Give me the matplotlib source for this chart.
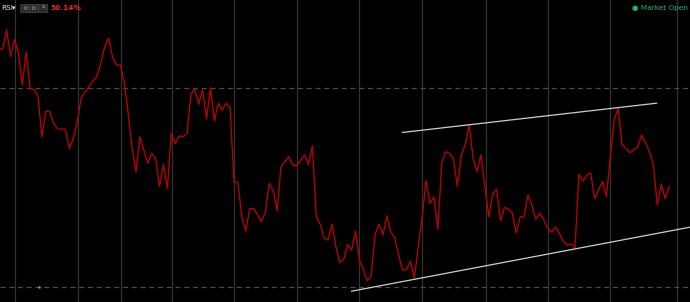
import numpy as np
import matplotlib
matplotlib.use("Agg")
import matplotlib.pyplot as plt

# RSI readings, one per bar
rsi = [77.9, 77.9, 81.8, 76.4, 79.9, 77.1, 70.7, 77.3, 69.9, 69.8,
       68.4, 60.2, 65.4, 65.3, 62.9, 61.8, 61.8, 61.7, 57.8, 59.9,
       63.1, 68.0, 69.3, 70.3, 71.5, 72.3, 75.0, 78.3, 80.1, 76.4,
       74.7, 74.7, 71.3, 65.0, 58.2, 53.1, 60.2, 57.6, 54.9, 56.9,
       55.9, 50.2, 54.7, 49.8, 60.9, 58.8, 60.4, 60.2, 60.9, 68.6,
       70.0, 66.8, 69.8, 63.8, 70.1, 63.4, 67.0, 65.6, 67.0, 66.2,
       51.2, 51.0, 44.1, 41.2, 45.7, 45.8, 44.5, 43.1, 45.0, 50.8,
       49.4, 45.3, 54.2, 55.2, 56.2, 54.5, 54.4, 55.5, 56.6, 54.6,
       58.4, 44.1, 42.6, 39.8, 39.4, 42.6, 38.1, 34.9, 35.5, 38.5,
       37.4, 41.2, 35.4, 33.4, 31.2, 32.2, 40.6, 42.6, 40.4, 44.3,
       41.0, 39.9, 36.4, 33.4, 33.4, 35.2, 31.7, 37.9, 44.1, 51.4,
       46.8, 48.1, 41.6, 54.9, 57.2, 56.9, 55.7, 50.2, 56.6, 58.6,
       62.6, 55.9, 53.2, 56.6, 50.2, 44.1, 48.8, 49.6, 43.3, 46.0,
       45.6, 44.9, 40.8, 44.1, 44.1, 48.5, 46.5, 43.6, 44.8, 43.6,
       41.8, 41.0, 42.0, 40.8, 39.1, 38.4, 38.6, 37.9, 52.7, 51.3,
       52.5, 52.9, 47.8, 49.5, 51.2, 48.1, 56.2, 63.6, 66.0, 58.6,
       57.9, 57.0, 57.6, 58.2, 60.6, 59.0, 57.2, 54.5, 46.5, 50.7,
       47.7, 50.14]

# bar positions of the period separators
period_marks = [4.2, 20.1, 31.1, 44.2, 60.1, 76.1, 92.0, 108.0, 124.2, 140.0, 156.0, 173.1]
levels = [70, 30]

# hand drawn channel lines (bar, rsi)
upper_trend = [(103.0, 61.1), (167.8, 67.0)]
lower_trend = [(90.0, 29.1), (176.3, 42.0)]

last_value = "50.14%"

fig = plt.figure(figsize=(6.9, 3.02), dpi=100, facecolor="black")
ax = fig.add_axes([0, 0, 1, 1])
ax.set_facecolor("black")

bars = np.arange(len(rsi))

for m in period_marks:
    ax.axvline(m, color="#333333", lw=0.9, zorder=1)
for lv in levels:
    ax.axhline(lv, color="#4a4a4a", lw=0.9, ls=(0, (4, 3)), zorder=1)

ax.plot(bars, rsi, color="#bb0000", lw=0.95, zorder=3)

for tl in (upper_trend, lower_trend):
    xs, ys = zip(*tl)
    ax.plot(xs, ys, color="#cfcfcf", lw=0.9, zorder=4)

# small orange marker sitting on the 30 line
ax.plot([10.26], [30], marker="s", ms=1.8, color="#f5a000", mec="none", zorder=5)

ax.set_xlim(0.31, 176.33)
ax.set_ylim(26.92, 87.80)
ax.set_xticks([])
ax.set_yticks([])
for s in ax.spines.values():
    s.set_visible(False)

W, H = 690, 302


def put(x, y, txt, **kw):
    fig.text(x / W, 1 - y / H, txt, va="center", **kw)


put(1, 8, "RSI", color="#e6e6e6", fontsize=5.3)
put(12, 8.5, "\u25be", color="#e6e6e6", fontsize=5)
for cx, sym in zip([25, 33.5, 42.5], ["\u2699", "\u2699", "\u2715"]):
    put(cx, 8, sym, color="#9a9a9a", fontsize=4.6, ha="center",
        bbox=dict(boxstyle="square,pad=0.3", fc="#2a2a2a", ec="#4a4a4a", lw=0.5))
put(50.5, 8, last_value, color="#ff1f1f", fontsize=5.3, fontweight="bold")
put(688, 8, "\u25cf Market Open", color="#1fb46e", fontsize=5.3, ha="right")

fig.savefig("out.png", dpi=100, facecolor="black")
